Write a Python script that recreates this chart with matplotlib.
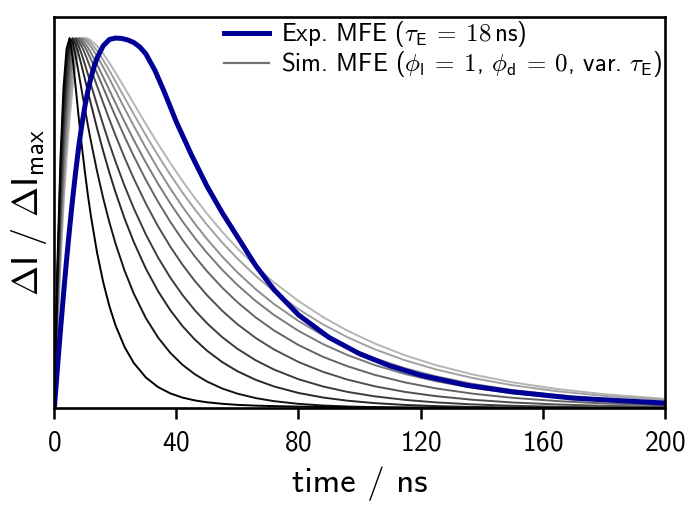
import matplotlib
matplotlib.use("Agg")
import matplotlib.pyplot as plt
from matplotlib.lines import Line2D

# ---------------------------------------------
# DATA
# ---------------------------------------------
# time grid of the simulated curves (ns)
t_sim = [0, 1, 2, 3, 4, 5, 6, 7, 8, 9, 10, 11, 12, 14, 16, 18, 20, 23, 26, 30,
         34, 38, 42, 46, 50, 55, 60, 66, 72, 80, 88, 96, 105, 115, 125, 137, 150,
         165, 180, 200]

# simulated MFE, normalised, shortest tau_E (black) first
sim_1 = [0, .388, .675, .867, .971, 1.0, .947, .866, .784, .708, .639, .575, .518,
         .420, .3406, .2766, .2248, .1653, .1223, .0827, .0568, .0398, .0284, .0209,
         .0158, .0117, .0088, .0067, .0054, .0040, .0031, .0026, .0021, .0016, .0012,
         .0009, .0007, .0005, .0003, .0002]
sim_2 = [0, .362, .638, .832, .949, .997, .9896, .9509, .9043, .8564, .8093, .7638,
         .7203, .6398, .5676, .5032, .4459, .3718, .31, .2431, .1906, .1494, .1171,
         .0918, .0719, .053, .0391, .0271, .0188, .0115, .0071, .0044, .0025, .0014,
         .0007, .0003, .0002, .0001, .0001, 0.0]
sim_3 = [0, .340, .606, .798, .924, .987, .9993, .9828, .9552, .9232, .8894, .8553,
         .8215, .7561, .6945, .6373, .5843, .5126, .4494, .3768, .3158, .2646, .2216,
         .1856, .1554, .1245, .0997, .0764, .0585, .041, .0287, .0201, .0135, .0086,
         .0055, .0033, .0018, .0009, .0005, .0002]
sim_4 = [0, .317, .568, .759, .891, .969, .999, .9952, .9781, .955, .929, .9019,
         .8742, .8191, .7659, .7152, .6672, .6007, .5404, .4689, .4067, .3526, .3056,
         .2648, .2295, .1918, .1603, .1292, .1042, .0781, .0586, .0439, .0318, .0222,
         .0155, .0101, .0063, .0037, .0021, .001]
sim_5 = [0, .295, .535, .722, .858, .946, .991, .9997, .9917, .9769, .9582, .9375,
         .9156, .8703, .825, .7807, .7379, .6772, .6208, .5524, .491, .4362, .3874,
         .344, .3054, .2631, .2266, .1895, .1584, .1247, .0981, .0772, .059, .0437,
         .0324, .0226, .0153, .0098, .0062, .0034]
sim_6 = [0, .277, .505, .688, .826, .921, .978, .999, .9978, .9889, .9757, .9599,
         .9425, .905, .8662, .8273, .789, .7337, .6814, .6165, .5573, .5034, .4545,
         .4102, .3702, .3255, .2861, .245, .2098, .1706, .1387, .1134, .0898, .0693,
         .0534, .0391, .0279, .0189, .0128, .0076]
sim_7 = [0, .260, .478, .657, .795, .895, .960, .993, 1.0, .9953, .9862, .9742,
         .9602, .9286, .8947, .8599, .8251, .774, .7249, .6632, .606, .5532, .5047,
         .4603, .4197, .3738, .3328, .2894, .2516, .2088, .1732, .1436, .1163, .092,
         .0728, .0549, .0405, .0285, .02, .0125]
sim_8 = [0, .241, .446, .616, .753, .858, .932, .978, .998, .9993, .9947, .9867,
         .9763, .9508, .9216, .8905, .8585, .8103, .7632, .7029, .6461, .5932, .5442,
         .4989, .4571, .4095, .3668, .3212, .2811, .2353, .1969, .1647, .1347, .1077,
         .0861, .0657, .0491, .0351, .025, .016]
sim_9 = [0, .224, .417, .580, .715, .822, .902, .957, .989, .9998, .9986, .9937,
         .9861, .9655, .9404, .9127, .8836, .8391, .7948, .7372, .6824, .6308, .5825,
         .5375, .4956, .4476, .4041, .3571, .3155, .2674, .2265, .1918, .159, .129,
         .1047, .0815, .0621, .0453, .0332, .0218]
sim_10 = [0, .207, .388, .544, .675, .782, .867, .929, .971, .9937, 1.0, .9983,
          .9937, .9783, .9575, .9333, .907, .8656, .8233, .7676, .7137, .6623, .6138,
          .5682, .5256, .4765, .4316, .3831, .3397, .2894, .2463, .2095, .1746, .1425,
          .1163, .0911, .0699, .0515, .0379, .0252]

# experimental MFE (tau_E = 18 ns)
t_exp = [0, 1, 2, 3, 4, 5, 6, 7, 8, 9, 10, 11, 12, 13, 14, 16, 18, 20, 22, 24, 26,
         28, 30, 33, 36, 40, 45, 50, 55, 60, 66, 72, 80, 90, 100, 110, 120, 135, 150,
         170, 200]
exp_mfe = [0, .107, .21, .308, .4, .486, .566, .64, .707, .765, .815, .858, .893,
           .922, .946, .979, .996, 1.0, .999, .995, .988, .976, .957, .912, .855, .773,
           .683, .600, .528, .463, .385, .320, .252, .191, .147, .114, .089, .062,
           .044, .027, .0136]

x_ticks = [0, 40, 80, 120, 160, 200]

# ---------------------------------------------
# STYLE
# ---------------------------------------------
plt.rcParams["font.family"] = ["cmss10", "DejaVu Sans"]
plt.rcParams["mathtext.fontset"] = "cm"
plt.rcParams["axes.unicode_minus"] = False
plt.rcParams["axes.formatter.use_mathtext"] = True

sims = [sim_1, sim_2, sim_3, sim_4, sim_5, sim_6, sim_7, sim_8, sim_9, sim_10]
n = len(sims)

fig = plt.figure(figsize=(6.88, 5.14), dpi=100)
ax = fig.add_axes([0.079, 0.206, 0.887, 0.761])

# light curves first, black on top
for i in reversed(range(n)):
    g = 0.71 * i / (n - 1)
    ax.plot(t_sim, sims[i], color=(g, g, g), lw=1.4, solid_joinstyle="round")

ax.plot(t_exp, exp_mfe, color="#000096", lw=3.6, solid_joinstyle="round")

ax.set_xlim(0, 200)
ax.set_ylim(0, 1.057)
ax.set_xticks(x_ticks)
ax.set_yticks([])
ax.tick_params(axis="x", direction="out", length=8, width=1.8, labelsize=19.5, pad=8)
for s in ax.spines.values():
    s.set_linewidth(1.9)

ax.set_xlabel("time / ns", fontsize=25, labelpad=8)
ax.set_ylabel(r"$\Delta\mathsf{I}\ /\ \Delta\mathsf{I}_{\mathsf{max}}$", fontsize=26, labelpad=4)

# ---------------------------------------------
# LEGEND
# ---------------------------------------------
handles = [
    Line2D([], [], color="#000096", lw=3.6),
    Line2D([], [], color="#707070", lw=1.6),
]
labels = [
    r"Exp. MFE ($\tau_\mathsf{E}\:=\:18\,$ns)",
    r"Sim. MFE ($\phi_\mathsf{l}\:=\:1$, $\phi_\mathsf{d}\:=\:0$, var. $\tau_\mathsf{E}$)",
]
ax.legend(handles, labels, loc="upper right", frameon=False, fontsize=18,
          handlelength=1.8, handletextpad=0.45, labelspacing=0.0,
          borderaxespad=0.05, borderpad=0.05)

plt.savefig("out.png", dpi=100)
plt.close()
